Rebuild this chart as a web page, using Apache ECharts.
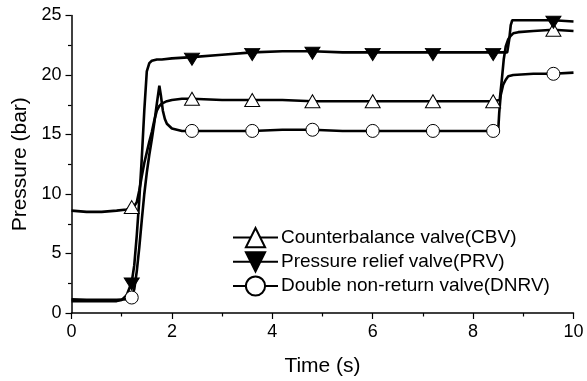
<!DOCTYPE html>
<html>
<head>
<meta charset="utf-8">
<script src="https://cdn.jsdelivr.net/npm/echarts@6/dist/echarts.min.js"></script>
<style>
html,body{margin:0;padding:0;background:#fff;}
#chart{width:587px;height:381px;}
</style>
</head>
<body>
<div id="chart"></div>
<script>
// ---- data ----
const seriesNames = ['Counterbalance valve(CBV)', 'Pressure relief valve(PRV)', 'Double non-return valve(DNRV)'];
const markerTimes = [1.2, 2.4, 3.6, 4.8, 6.0, 7.2, 8.4, 9.6];

const cbvTime = [0, 0.3, 0.6, 0.9, 1.1, 1.2, 1.25, 1.3, 1.35, 1.4, 1.45, 1.5, 1.55, 1.6, 1.65, 1.7, 1.75, 1.8, 1.9, 2.0, 2.2, 2.4, 3.0, 3.6, 4.2, 4.8, 5.4, 6.0, 6.6, 7.2, 7.8, 8.4, 8.53, 8.57, 8.61, 8.65, 8.7, 8.75, 8.8, 8.9, 9.2, 9.6, 10];
const cbvPressure = [8.6, 8.5, 8.5, 8.6, 8.7, 8.9, 9.0, 9.3, 10.3, 11.5, 12.6, 13.5, 14.4, 15.2, 16.2, 17.0, 17.4, 17.6, 17.8, 17.9, 18.0, 18.0, 17.9, 17.9, 17.9, 17.8, 17.8, 17.8, 17.8, 17.8, 17.8, 17.8, 17.9, 19.5, 21.3, 22.4, 23.0, 23.3, 23.5, 23.6, 23.7, 23.8, 23.7];

const prvTime = [0, 0.3, 0.6, 0.9, 1.0, 1.1, 1.2, 1.25, 1.3, 1.35, 1.4, 1.45, 1.5, 1.55, 1.6, 1.7, 1.8, 2.0, 2.4, 3.0, 3.6, 4.2, 4.8, 5.4, 6.0, 6.6, 7.2, 7.8, 8.4, 8.68, 8.72, 8.75, 8.78, 8.85, 9.0, 9.3, 9.6, 10];
const prvPressure = [1.0, 1.0, 1.0, 1.0, 1.1, 1.5, 2.6, 4.0, 6.5, 9.5, 13.0, 17.0, 20.3, 21.0, 21.2, 21.3, 21.3, 21.4, 21.5, 21.7, 21.9, 22.0, 22.0, 21.9, 21.9, 21.9, 21.9, 21.9, 21.9, 21.9, 23.0, 24.2, 24.6, 24.6, 24.6, 24.6, 24.6, 24.5];

const dnrvTime = [0, 0.3, 0.6, 0.9, 1.1, 1.2, 1.25, 1.3, 1.35, 1.4, 1.45, 1.5, 1.55, 1.6, 1.65, 1.7, 1.75, 1.78, 1.82, 1.86, 1.9, 2.0, 2.2, 2.4, 3.0, 3.6, 4.2, 4.8, 5.4, 6.0, 6.6, 7.2, 7.8, 8.4, 8.5, 8.52, 8.55, 8.6, 8.65, 8.7, 8.8, 9.2, 9.6, 10];
const dnrvPressure = [1.15, 1.1, 1.1, 1.1, 1.15, 1.3, 2.0, 3.5, 5.5, 7.8, 10.0, 11.8, 13.3, 14.6, 16.0, 17.6, 19.1, 18.3, 17.0, 16.3, 15.9, 15.5, 15.3, 15.3, 15.3, 15.3, 15.4, 15.4, 15.3, 15.3, 15.3, 15.3, 15.3, 15.3, 15.3, 16.8, 18.3, 19.2, 19.6, 19.9, 20.0, 20.1, 20.1, 20.2];

const xTicks = [0, 2, 4, 6, 8, 10];
const yTicks = [0, 5, 10, 15, 20, 25];

// ---- build ----
function build(times, vals) {
  return times.map((t, i) => {
    const isMarker = markerTimes.some(m => Math.abs(m - t) < 1e-9);
    return isMarker ? { value: [t, vals[i]] } : { value: [t, vals[i]], symbol: 'none' };
  });
}
const FONT = 'Liberation Sans, Arial, sans-serif';
const downTri = 'path://M0,0L20,0L10,17Z';

function mkSeries(name, times, vals, symbol, size, fill, offset) {
  return {
    name: name,
    type: 'line',
    data: build(times, vals),
    symbol: symbol,
    symbolSize: size,
    symbolOffset: offset || [0, 0],
    showSymbol: true,
    clip: false,
    lineStyle: { color: '#000', width: 2.6 },
    itemStyle: { color: fill, borderColor: '#000', borderWidth: 1 },
    emphasis: { disabled: true },
    z: 2
  };
}

const chart = echarts.init(document.getElementById('chart'), null, { renderer: 'canvas' });
chart.setOption({
  animation: false,
  backgroundColor: '#fff',
  grid: { left: 71.5, right: 13.5, top: 15.5, bottom: 68, containLabel: false, outerBoundsMode: 'none' },
  legend: {
    orient: 'vertical',
    left: 227,
    top: 222,
    itemWidth: 45,
    itemHeight: 24,
    itemGap: 3,
    textStyle: { fontFamily: FONT, fontSize: 19, color: '#000', padding: [0, 0, 0, -2] },
    data: seriesNames
  },
  xAxis: {
    type: 'value',
    min: 0, max: 10, interval: 2,
    name: 'Time (s)',
    nameLocation: 'middle',
    nameGap: 43,
    nameTextStyle: { fontFamily: FONT, fontSize: 21, color: '#000' },
    axisLine: { show: true, lineStyle: { color: '#000', width: 1.5 } },
    axisTick: { show: true, inside: false, length: 6, lineStyle: { color: '#000', width: 1.2 } },
    minorTick: { show: true, splitNumber: 2, length: 3.5, lineStyle: { color: '#000', width: 1.2 } },
    splitLine: { show: false },
    axisLabel: {
      fontFamily: FONT, fontSize: 18, color: '#000', margin: 10,
      formatter: v => (xTicks.indexOf(v) >= 0 ? String(v) : '')
    }
  },
  yAxis: {
    type: 'value',
    min: 0, max: 25, interval: 5,
    name: 'Pressure (bar)',
    nameLocation: 'middle',
    nameGap: 39,
    nameTextStyle: { fontFamily: FONT, fontSize: 21, color: '#000' },
    axisLine: { show: true, lineStyle: { color: '#000', width: 1.5 } },
    axisTick: { show: true, inside: false, length: 6, lineStyle: { color: '#000', width: 1.2 } },
    minorTick: { show: true, splitNumber: 2, length: 3.5, lineStyle: { color: '#000', width: 1.2 } },
    splitLine: { show: false },
    axisLabel: {
      fontFamily: FONT, fontSize: 18, color: '#000', margin: 10,
      formatter: v => (yTicks.indexOf(v) >= 0 ? String(v) : '')
    }
  },
  series: [
    mkSeries(seriesNames[0], cbvTime, cbvPressure, 'triangle', [15, 13], '#fff'),
    mkSeries(seriesNames[1], prvTime, prvPressure, downTri, [15, 12], '#000', [0, 2]),
    mkSeries(seriesNames[2], dnrvTime, dnrvPressure, 'circle', 13, '#fff')
  ]
});
</script>
</body>
</html>
